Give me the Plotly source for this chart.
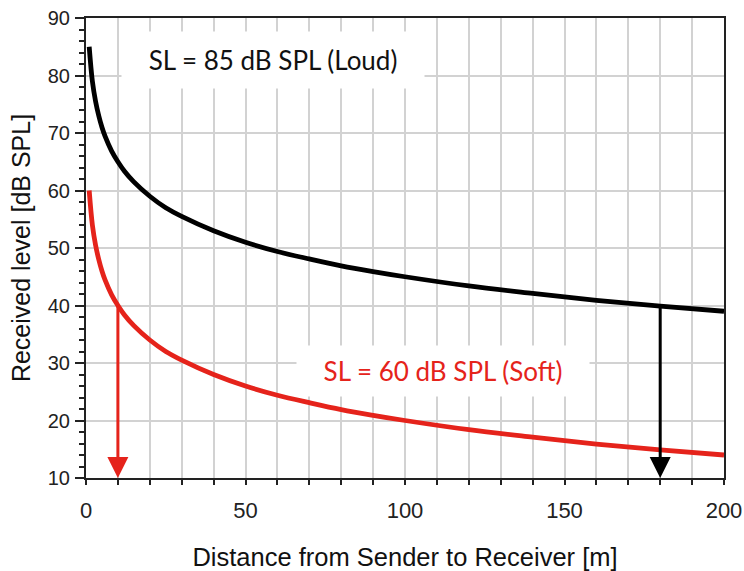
import plotly.graph_objects as go

# Distance from sender [m] and received levels [dB SPL]
distance = [1, 2, 3, 4, 5, 6, 8, 10, 12, 15, 20, 25, 30, 40, 50, 60, 70, 80, 90,
            100, 120, 140, 160, 180, 200]
loud_level = [85, 79, 75.5, 73, 71, 69.4, 66.9, 65, 63.4, 61.5, 59, 57, 55.5, 53, 51,
              49.4, 48.1, 46.9, 45.9, 45, 43.4, 42.1, 40.9, 39.9, 39]
soft_level = [60, 54, 50.5, 48, 46, 44.4, 41.9, 40, 38.4, 36.5, 34, 32, 30.5, 28, 26,
              24.4, 23.1, 21.9, 20.9, 20, 18.4, 17.1, 15.9, 14.9, 14]

# Arrows: (distance, from level, to level)
arrow_x = [10, 180]
arrow_from = [40, 39.9]
arrow_to = [10, 10]
arrow_colors = ["#e5231b", "#000000"]

labels = ["SL = 85 dB SPL (Loud)", "SL = 60 dB SPL (Soft)"]
label_x = [58.5, 112]
label_y = [82.7, 28.6]
label_colors = ["#111111", "#e5231b"]

RED = "#e5231b"

fig = go.Figure()
fig.add_trace(go.Scatter(x=distance, y=loud_level, mode="lines",
                         line=dict(color="#000000", width=4.8, shape="spline"),
                         showlegend=False))
fig.add_trace(go.Scatter(x=distance, y=soft_level, mode="lines",
                         line=dict(color=RED, width=4.8, shape="spline"),
                         showlegend=False))

for xv, y0, y1, c in zip(arrow_x, arrow_from, arrow_to, arrow_colors):
    fig.add_annotation(x=xv, y=y1, ax=xv, ay=y0, xref="x", yref="y",
                       axref="x", ayref="y", text="", showarrow=True,
                       arrowhead=2, arrowsize=1.4, arrowwidth=3,
                       arrowcolor=c, standoff=0)

sizes = [(300, 54), (290, 48)]
for t, xv, yv, c, (w, h) in zip(labels, label_x, label_y, label_colors, sizes):
    fig.add_annotation(x=xv, y=yv, xref="x", yref="y", text=t, showarrow=False,
                       font=dict(family="Lato, Open Sans, sans-serif", size=26, color=c),
                       bgcolor="white", width=w, height=h)

fig.update_layout(
    width=744, height=571,
    margin=dict(l=86, r=20, t=18, b=93),
    paper_bgcolor="white", plot_bgcolor="white",
    font=dict(family="Liberation Sans, Arial, sans-serif", color="#222222"),
)
fig.update_xaxes(
    range=[0, 200], dtick=50, tick0=0, automargin=False, ticklabeloverflow="allow",
    showgrid=True, gridcolor="#d2d2d2", gridwidth=1.5,
    minor=dict(dtick=10, showgrid=True, gridcolor="#d2d2d2", gridwidth=1.5,
               ticks="outside", ticklen=5, tickcolor="#222222", tickwidth=1.5),
    ticks="outside", ticklen=5, tickcolor="#222222", tickwidth=1.5,
    showline=True, linecolor="#222222", linewidth=2, mirror=True,
    tickfont=dict(size=22, color="#222222"), ticklabelstandoff=7,
    title=dict(text="Distance from Sender to Receiver [m]",
               font=dict(size=25.5, color="#111111"), standoff=26),
    zeroline=False,
)
fig.update_yaxes(
    range=[10, 90], dtick=10, tick0=10, automargin=False, ticklabeloverflow="allow",
    showgrid=True, gridcolor="#d2d2d2", gridwidth=1.5,
    minor=dict(dtick=2, showgrid=False, ticks="outside", ticklen=5,
               tickcolor="#222222", tickwidth=1.5),
    ticks="outside", ticklen=9, tickcolor="#222222", tickwidth=1.5,
    showline=True, linecolor="#222222", linewidth=2, mirror=True,
    tickfont=dict(size=20, color="#222222"), ticklabelstandoff=1,
    title=dict(text="Received level [dB SPL]",
               font=dict(size=25, color="#111111"), standoff=10),
    zeroline=False,
)

# remove the default 8px page margin so the 744x571 figure fills the window
fig.write_html("out.html", config={"displayModeBar": False},
               post_script="document.body.style.margin='0px';")
